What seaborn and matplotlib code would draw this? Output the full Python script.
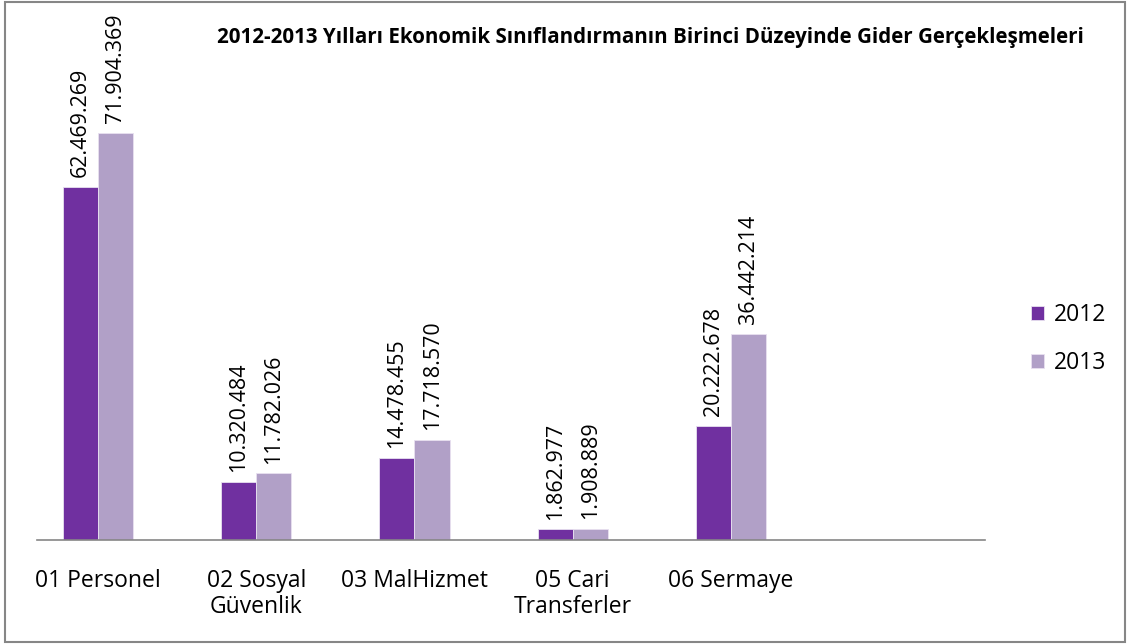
import matplotlib
matplotlib.use("Agg")
import matplotlib.pyplot as plt
import seaborn as sns
import pandas as pd
from matplotlib.patches import Rectangle

categories = ["01 Personel", "02 Sosyal\nGüvenlik", "03 MalHizmet", "05 Cari\nTransferler", "06 Sermaye"]
years = ["2012", "2013"]
values_2012 = [62469269, 10320484, 14478455, 1862977, 20222678]
values_2013 = [71904369, 11782026, 17718570, 1908889, 36442214]
colors = ["#7030A0", "#B1A0C7"]
title = "2012-2013 Yılları Ekonomik Sınıflandırmanın Birinci Düzeyinde Gider Gerçekleşmeleri"

df = pd.DataFrame({
    "Kategori": categories * 2,
    "Yıl": [years[0]] * len(categories) + [years[1]] * len(categories),
    "Değer": values_2012 + values_2013,
})

sns.set_style("white")
plt.rcParams["font.family"] = ["Open Sans", "DejaVu Sans"]
plt.rcParams["text.color"] = "black"
plt.rcParams["xtick.color"] = "black"

W, H = 1130, 644
fig = plt.figure(figsize=(W / 100, H / 100), dpi=100)
ax = fig.add_axes([37 / W, (H - 540) / H, (985 - 37) / W, (540 - 20) / H])

sns.barplot(data=df, x="Kategori", y="Değer", hue="Yıl", palette=colors,
            width=0.445, gap=0, saturation=1, ax=ax, legend=True,
            linewidth=0.6, edgecolor="#e8e0f0")

ax.set_xlim(-0.385, 5.605)
ax.set_ylim(0, 91.9e6)
for s in ["top", "right", "left"]:
    ax.spines[s].set_visible(False)
ax.spines["bottom"].set_color("#868686")
ax.spines["bottom"].set_linewidth(1.2)
ax.set_yticks([])
ax.set_xlabel("")
ax.set_ylabel("")
ax.tick_params(axis="x", length=0, pad=21)
for t in ax.get_xticklabels():
    t.set_fontsize(16.5)
    t.set_linespacing(1.1)
    t.set_color("black")

def fmt(v):
    return f"{v:,}".replace(",", ".")

for cont in ax.containers:
    ax.bar_label(cont, labels=[fmt(int(v)) for v in cont.datavalues],
                 rotation=90, padding=7, fontsize=15.4, color="black")

leg = ax.legend(loc="center left", bbox_to_anchor=(1010 / W, (H - 339) / H),
                bbox_transform=fig.transFigure, frameon=False, fontsize=16.5,
                handlelength=0.6, handleheight=0.6, handletextpad=0.4,
                labelspacing=1.05)
for t in leg.get_texts():
    t.set_color("black")

fig.text(650 / W, (H - 38) / H, title, ha="center", va="center",
         fontsize=14.8, fontweight="bold", color="black")

fig.patches.append(Rectangle((5 / W, 2 / H), (W - 10) / W, (H - 4) / H,
                             transform=fig.transFigure, fill=False,
                             edgecolor="#868686", linewidth=1.5))

fig.savefig("out.png", dpi=100)
